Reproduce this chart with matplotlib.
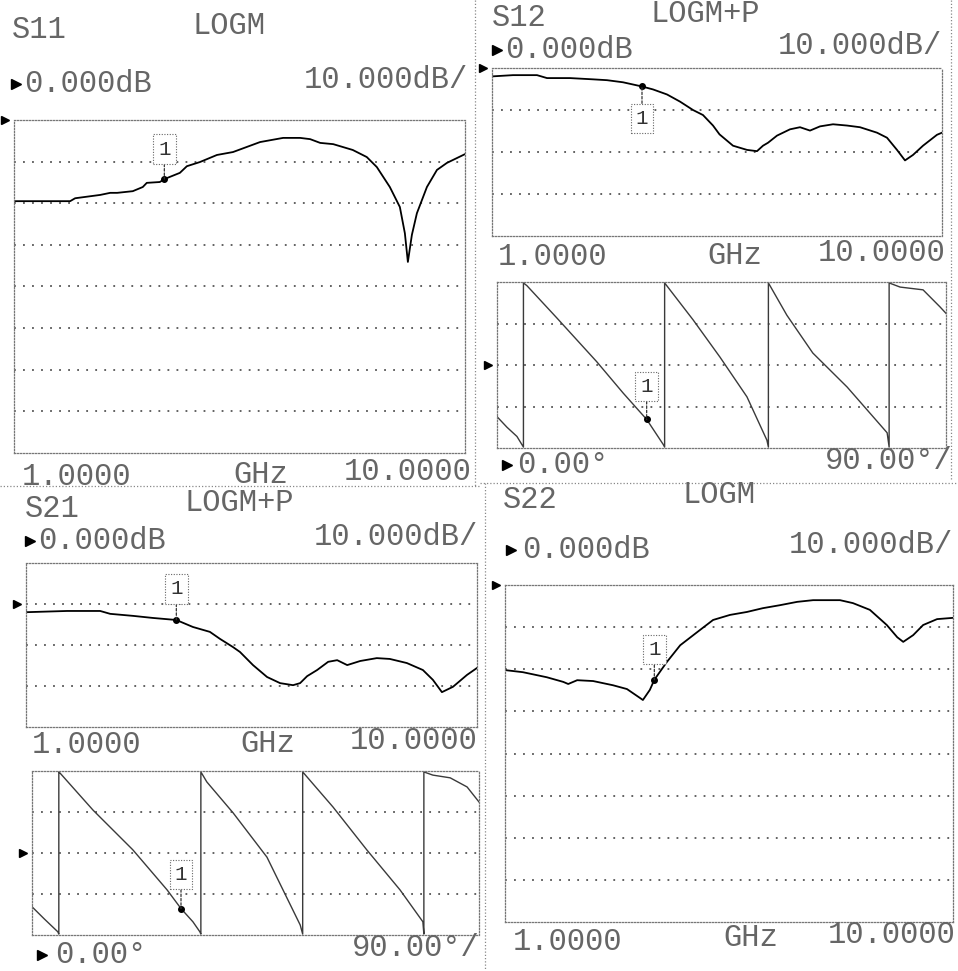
import matplotlib
matplotlib.use("Agg")
import numpy as np
import matplotlib.pyplot as plt
import matplotlib.transforms as mtransforms
from matplotlib.lines import Line2D

W, H = 958, 971
FONT = ["Liberation Mono", "DejaVu Sans Mono"]
INK = "#666666"
FS = 22

# ---------------- measured data (frequency in GHz) ----------------
s11_freq = [1.00, 2.12, 2.22, 2.72, 2.92, 3.06, 3.37, 3.57, 3.65, 3.91,
            4.00, 4.31, 4.45, 4.71, 5.05, 5.37, 5.91, 6.37, 6.71, 6.91,
            7.11, 7.37, 7.76, 8.04, 8.24, 8.50, 8.70, 8.80, 8.86, 8.94,
            9.04, 9.24, 9.44, 9.64, 10.0]
s11_db = [-19.5, -19.5, -18.8, -18.0, -17.5, -17.5, -17.1, -16.1, -15.1, -14.9,
          -14.2, -12.7, -11.1, -10.1, -8.4, -7.7, -5.3, -4.3, -4.3, -4.6,
          -5.5, -5.8, -7.2, -8.9, -11.3, -16.1, -20.9, -27.2, -34.1, -27.6,
          -22.4, -16.1, -12.0, -10.3, -8.2]

s12_freq = [1.00, 1.42, 1.90, 2.10, 2.56, 3.02, 3.30, 3.62, 4.00, 4.22,
            4.50, 4.76, 5.02, 5.22, 5.42, 5.55, 5.82, 6.10, 6.30, 6.42,
            6.52, 6.70, 6.96, 7.16, 7.36, 7.56, 7.82, 8.10, 8.36, 8.70,
            8.90, 9.10, 9.26, 9.42, 9.62, 9.90, 10.0]
s12_db = [-2.0, -1.7, -1.7, -2.4, -2.4, -2.7, -2.9, -3.4, -4.4, -5.1,
          -6.3, -8.0, -10.0, -11.2, -13.7, -15.8, -18.5, -19.5, -19.8, -18.5,
          -17.8, -16.1, -14.6, -14.1, -14.9, -13.9, -13.4, -13.7, -14.1, -15.4,
          -16.6, -19.5, -22.0, -20.7, -18.5, -15.9, -15.4]

s12_phase_freq = [1.00, 1.20, 1.40, 1.53, 1.53, 1.60, 2.20, 3.00, 3.53, 4.00,
                  4.33, 4.36, 4.36, 4.93, 5.47, 6.01, 6.41, 6.44, 6.44, 6.81,
                  7.33, 8.02, 8.82, 8.86, 8.86, 9.08, 9.54, 9.88, 10.0]
s12_phase_deg = [-112, -135, -155, -178, 178, 172, 102, 7, -61, -118,
                 -172, -178, 178, 98, 17, -69, -163, -178, 178, 108,
                 26, -48, -147, -178, 178, 169, 163, 126, 112]

s21_freq = [1.00, 1.82, 2.48, 2.68, 3.14, 3.53, 4.00, 4.33, 4.67, 4.87,
            5.13, 5.27, 5.53, 5.81, 6.07, 6.33, 6.47, 6.61, 6.81, 7.03,
            7.21, 7.41, 7.67, 8.00, 8.26, 8.60, 8.92, 9.12, 9.30, 9.52,
            9.80, 10.0]
s21_db = [-2.0, -1.7, -1.7, -2.4, -2.9, -3.4, -3.9, -5.6, -6.8, -8.5,
          -10.5, -11.7, -14.9, -17.8, -19.3, -19.8, -19.3, -17.6, -16.1, -14.1,
          -13.7, -14.9, -13.9, -13.2, -13.4, -14.4, -16.1, -18.5, -21.5, -20.2,
          -17.3, -15.6]

s21_phase_freq = [1.00, 1.25, 1.52, 1.54, 1.54, 1.56, 2.23, 3.03, 3.72, 4.00,
                  4.24, 4.38, 4.40, 4.40, 4.52, 5.05, 5.73, 6.40, 6.45, 6.45,
                  7.06, 7.74, 8.41, 8.87, 8.89, 8.89, 9.07, 9.42, 9.76, 10.0]
s21_phase_deg = [-118, -145, -173, -178, 178, 176, 94, 7, -81, -122,
                 -151, -173, -178, 178, 156, 88, -9, -158, -178, 178,
                 101, 7, -81, -151, -178, 178, 171, 165, 145, 112]

s22_freq = [1.00, 1.36, 1.84, 2.17, 2.27, 2.45, 2.77, 3.17, 3.45, 3.71,
            3.77, 3.91, 4.00, 4.25, 4.52, 4.86, 5.18, 5.52, 5.86, 6.18,
            6.52, 6.87, 7.19, 7.73, 7.99, 8.33, 8.67, 8.88, 9.00, 9.20,
            9.40, 9.68, 10.0]
s22_db = [-20.2, -20.7, -21.9, -23.0, -23.5, -22.6, -22.8, -23.8, -24.7, -26.8,
          -27.3, -24.9, -22.5, -18.3, -14.3, -11.2, -8.3, -7.1, -6.4, -5.5,
          -4.8, -4.0, -3.6, -3.6, -4.3, -5.9, -9.5, -12.4, -13.5, -11.9,
          -9.5, -8.1, -7.8]

marker_freq = 4.0
start_label, stop_label, unit_label = "1.0000", "10.0000", "GHz"

fig = plt.figure(figsize=(W / 100, H / 100), dpi=100, facecolor="white")


def box_axes(x0, y0, x1, y1):
    ax = fig.add_axes([x0 / W, 1 - y1 / H, (x1 - x0) / W, (y1 - y0) / H])
    ax.set_facecolor("white")
    return ax


def style_grid(ax, ylo, yhi, ndiv, ref):
    ax.set_xlim(1, 10)
    ax.set_ylim(ylo, yhi)
    ax.set_xticks([])
    ax.set_yticks([])
    for sp in ax.spines.values():
        sp.set_linestyle((0, (1, 1.4)))
        sp.set_color("#777777")
        sp.set_linewidth(0.9)
    step = (yhi - ylo) / ndiv
    for k in range(1, ndiv):
        ax.axhline(ylo + k * step, color="#555555", lw=1.3, ls=(0, (1, 4)))
    tr = mtransforms.blended_transform_factory(ax.transAxes, ax.transData)
    ax.plot([-0.02], [ref], marker=">", ms=6, color="black", transform=tr,
            clip_on=False)


def mark(ax, freq, vals, dy):
    v = np.interp(marker_freq, freq, vals)
    ax.plot([marker_freq], [v], "o", ms=4, color="black", zorder=5)
    ax.annotate("1", xy=(marker_freq, v), xytext=(0, dy),
                textcoords="offset pixels", ha="center", va="center",
                fontsize=15, family=FONT, color="#333333",
                bbox=dict(boxstyle="square,pad=0.25", fc="white", ec="#666666",
                          ls=(0, (1, 1.4)), lw=0.8),
                arrowprops=dict(arrowstyle="-", color="#333333", lw=0.9,
                                ls=(0, (2, 1.5)), shrinkA=0, shrinkB=0),
                zorder=6)


def label(x, y, s, ha="left"):
    fig.text(x / W, 1 - y / H, s, ha=ha, va="center", fontsize=FS,
             family=FONT, color=INK)


def arrow(x, y):
    fig.add_artist(Line2D([x / W], [1 - y / H], marker=">", ms=7,
                          color="black", transform=fig.transFigure))


def sep(x0, y0, x1, y1):
    fig.add_artist(Line2D([x0 / W, x1 / W], [1 - y0 / H, 1 - y1 / H],
                          color="#888888", lw=0.9, ls=(0, (1, 1.6)),
                          transform=fig.transFigure))


mag_style = dict(color="black", lw=1.3)
phase_style = dict(color="#3a3a3a", lw=1.0)

# ---- S11 ----
ax = box_axes(14, 120, 465, 453)
style_grid(ax, -80, 0, 8, 0)
ax.plot(s11_freq, s11_db, **mag_style)
mark(ax, s11_freq, s11_db, 30)
label(12, 30, "S11"); label(193, 26, "LOGM")
arrow(16, 84); label(24, 84, "0.000dB"); label(468, 80, "10.000dB/", "right")
label(22, 477, start_label); label(233, 475, unit_label)
label(472, 472, stop_label, "right")

# ---- S12 magnitude / phase ----
ax = box_axes(492, 68, 942, 236)
style_grid(ax, -40, 0, 4, 0)
ax.plot(s12_freq, s12_db, **mag_style)
mark(ax, s12_freq, s12_db, -32)
label(492, 18, "S12"); label(650, 14, "LOGM+P")
arrow(497, 50); label(505, 50, "0.000dB"); label(942, 46, "10.000dB/", "right")
label(498, 257, start_label); label(707, 256, unit_label)
label(945, 253, stop_label, "right")

ax = box_axes(497, 282, 946, 448)
style_grid(ax, -180, 180, 4, 0)
ax.plot(s12_phase_freq, s12_phase_deg, **phase_style)
mark(ax, s12_phase_freq, s12_phase_deg, 33)
arrow(507, 465); label(517, 465, "0.00°"); label(953, 461, "90.00°/", "right")

# ---- S21 magnitude / phase ----
ax = box_axes(26, 563, 477, 727)
style_grid(ax, -30, 10, 4, 0)
ax.plot(s21_freq, s21_db, **mag_style)
mark(ax, s21_freq, s21_db, 31)
label(25, 509, "S21"); label(185, 503, "LOGM+P")
arrow(30, 541); label(38, 541, "0.000dB"); label(478, 537, "10.000dB/", "right")
label(32, 745, start_label); label(240, 744, unit_label)
label(477, 741, stop_label, "right")

ax = box_axes(32, 771, 479, 935)
style_grid(ax, -180, 180, 4, 0)
ax.plot(s21_phase_freq, s21_phase_deg, **phase_style)
mark(ax, s21_phase_freq, s21_phase_deg, 34)
arrow(42, 955); label(55, 955, "0.00°"); label(480, 948, "90.00°/", "right")

# ---- S22 ----
ax = box_axes(505, 585, 953, 922)
style_grid(ax, -80, 0, 8, 0)
ax.plot(s22_freq, s22_db, **mag_style)
mark(ax, s22_freq, s22_db, 30)
label(503, 500, "S22"); label(682, 495, "LOGM")
arrow(511, 550); label(522, 550, "0.000dB"); label(953, 545, "10.000dB/", "right")
label(513, 942, start_label); label(723, 938, unit_label)
label(955, 935, stop_label, "right")

# ---- panel separators ----
sep(475, 0, 475, 487)
sep(0, 486, 480, 486)
sep(480, 483, 958, 483)
sep(485, 483, 485, 971)
sep(951, 0, 951, 480)

fig.savefig("out.png", dpi=100, facecolor="white")
